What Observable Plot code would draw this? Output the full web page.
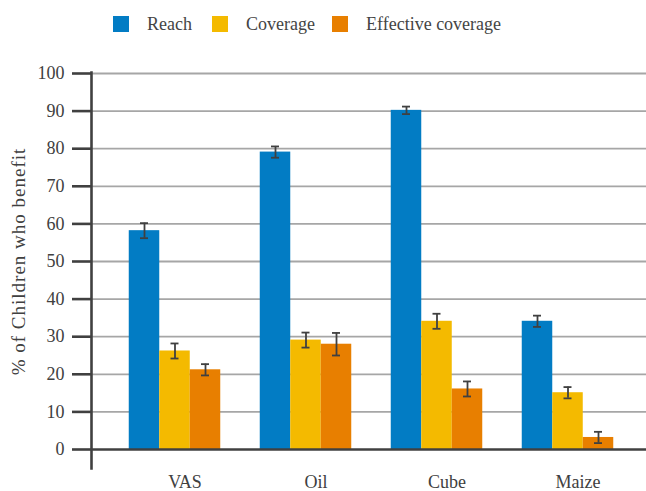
<!DOCTYPE html>
<html><head><meta charset="utf-8">
<script src="https://cdn.jsdelivr.net/npm/d3@7"></script>
<script src="https://cdn.jsdelivr.net/npm/@observablehq/plot@0.6"></script>
<style>
body{margin:0;background:#fff;font-family:"Liberation Serif",serif;color:#444;}
#legend{position:relative;height:48px;width:646px;}
.item{position:absolute;top:13px;display:flex;align-items:center;font-size:18px;line-height:22px;white-space:nowrap;}
.sw{width:16px;height:16px;margin-right:18px;}
.ytitle text{letter-spacing:1px;}
</style></head><body>
<div id="legend"></div>
<div id="chart"></div>
<script>
const categories = ["VAS", "Oil", "Cube", "Maize"];
const series = ["Reach", "Coverage", "Effective coverage"];
const reach = [58.2, 79.1, 90.2, 34.1];
const reachErr = [2.0, 1.5, 1.0, 1.5];
const coverage = [26.2, 29.1, 34.1, 15.1];
const coverageErr = [2.0, 2.0, 2.0, 1.5];
const effective = [21.2, 28.0, 16.1, 3.2];
const effectiveErr = [1.5, 3.0, 2.0, 1.5];
const yTicks = [0, 10, 20, 30, 40, 50, 60, 70, 80, 90, 100];
const yTitle = "% of Children who benefit";
const colors = ["#027CC4", "#F4BA00", "#E87F00"];

const values = [reach, coverage, effective];
const errs = [reachErr, coverageErr, effectiveErr];
const data = categories.flatMap((c, i) => series.map((s, j) => ({category: c, series: s, value: values[j][i], err: errs[j][i]})));

// legend
const legendPos = [113, 212, 332];
const legend = document.getElementById("legend");
series.forEach((s, j) => {
  const it = document.createElement("div");
  it.className = "item";
  it.style.left = legendPos[j] + "px";
  const sw = document.createElement("div");
  sw.className = "sw";
  sw.style.background = colors[j];
  const tx = document.createElement("span");
  tx.textContent = s;
  it.appendChild(sw); it.appendChild(tx);
  legend.appendChild(it);
});

const bw = 131, barW = 30.5, capW = 8;
const offsets = [-30.5, 0, 30.5];
const ink = "#404040";
const marks = [
  Plot.ruleY(yTicks.filter(d => d > 0), {stroke: "#a6a6a6", strokeWidth: 1.8}),
  ...series.map((s, j) => Plot.barY(data.filter(d => d.series === s), {
    x: "category", y: "value", fill: colors[j],
    insetLeft: (bw - barW) / 2, insetRight: (bw - barW) / 2, dx: offsets[j]
  })),
  Plot.ruleY([0], {stroke: ink, strokeWidth: 2.6}),
  ...series.map((s, j) => Plot.ruleX(data.filter(d => d.series === s), {
    x: "category", y1: d => d.value - d.err, y2: d => d.value + d.err,
    dx: offsets[j], stroke: ink, strokeWidth: 1.8
  })),
  ...series.map((s, j) => Plot.tickY(data.filter(d => d.series === s), {
    x: "category", y: d => d.value + d.err, dx: offsets[j],
    insetLeft: (bw - capW) / 2, insetRight: (bw - capW) / 2, stroke: ink, strokeWidth: 1.8
  })),
  ...series.map((s, j) => Plot.tickY(data.filter(d => d.series === s), {
    x: "category", y: d => d.value - d.err, dx: offsets[j],
    insetLeft: (bw - capW) / 2, insetRight: (bw - capW) / 2, stroke: ink, strokeWidth: 1.8
  })),
  Plot.frame({anchor: "left", stroke: ink, strokeWidth: 2.6, insetBottom: -19, insetTop: -1}),
  Plot.axisY({ticks: yTicks, tickSize: 19, tickPadding: 8, strokeWidth: 2.6, color: ink, fontSize: 18, label: null}),
  Plot.axisX({tickSize: 0, tickPadding: 26, dx: 10, color: ink, fontSize: 18, label: null}),
  Plot.text([yTitle], {frameAnchor: "left", textAnchor: "middle", rotate: -90, dx: -73, fontSize: 19, fill: ink, className: "ytitle"})
];

const chart = Plot.plot({
  width: 646, height: 443,
  marginTop: 25, marginBottom: 42, marginLeft: 91, marginRight: 0,
  style: {fontFamily: "'Liberation Serif', serif", background: "#fff", color: ink},
  x: {domain: categories, paddingInner: 0, paddingOuter: 0.1183, align: 0.58},
  y: {domain: [0, 100]},
  marks
});
document.getElementById("chart").appendChild(chart);
</script>
</body></html>
